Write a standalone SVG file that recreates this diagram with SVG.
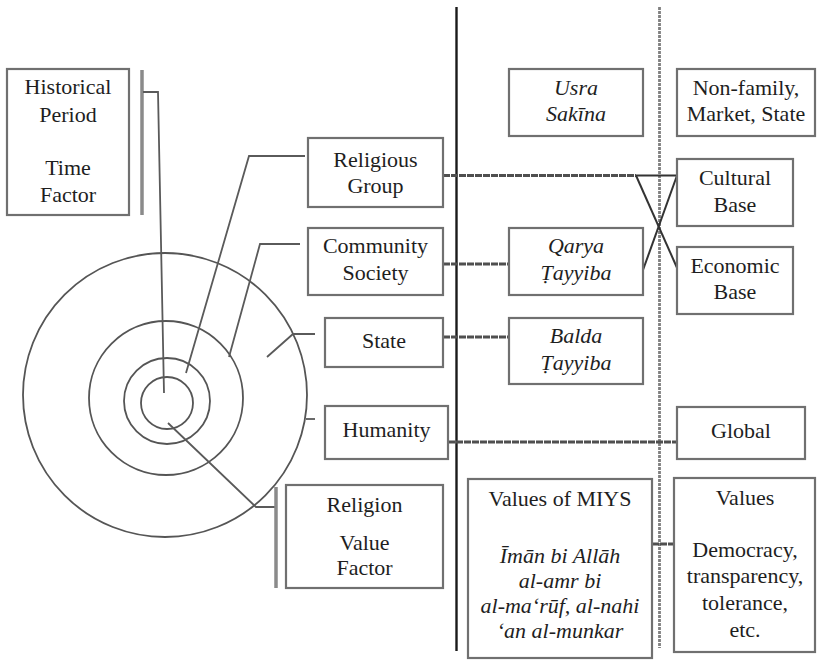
<svg xmlns="http://www.w3.org/2000/svg" width="817" height="661" viewBox="0 0 817 661" font-family="Liberation Serif, Times New Roman, serif">
<style>
.box{fill:#fff;stroke:#707070;stroke-width:2.2}
.t{font-size:22px;fill:#1e1e1e;text-anchor:middle}
.i{font-style:italic}
.ln{fill:none;stroke:#5a5a5a;stroke-width:1.8}
.lg{fill:none;stroke:#8a8a8a;stroke-width:3.5}
.ring{fill:none;stroke:#555;stroke-width:1.8}
.cx{fill:none;stroke:#4f4f4f;stroke-width:2.8;stroke-dasharray:7 1}
.dk{fill:none;stroke:#333;stroke-width:2}
</style>
<rect width="817" height="661" fill="#fff"/>

<g id="dividers">
<line x1="456.5" y1="7" x2="456.5" y2="651" stroke="#1a1a1a" stroke-width="2.4"/>
<line x1="659.5" y1="7" x2="659.5" y2="648" stroke="#808080" stroke-width="2.8" stroke-dasharray="3 1"/>
</g>

<g id="circles">
<circle class="ring" cx="165" cy="395" r="142"/>
<circle class="ring" cx="166" cy="398" r="77"/>
<circle class="ring" cx="167" cy="401" r="43"/>
<circle class="ring" cx="167" cy="403" r="26"/>
</g>

<g id="connectors">
<line class="lg" x1="142" y1="70" x2="142" y2="215"/>
<polyline class="ln" points="143,92 158,92 164,393"/>
<polyline class="ln" points="305,156 249,156 186,373"/>
<polyline class="ln" points="300,244 260,244 229,357"/>
<polyline class="ln" points="267,357 293,334 315,334"/>
<line class="ln" x1="306" y1="419" x2="315" y2="419"/>
<polyline class="ln" points="168,423 256,507 276,507"/>
<line class="lg" x1="276" y1="487" x2="276" y2="588"/>
<line class="cx" x1="443" y1="175.5" x2="636" y2="175.5"/>
<line class="dk" x1="636" y1="175.5" x2="677" y2="175.5"/>
<line class="dk" x1="636" y1="175.5" x2="678" y2="270"/>
<line class="dk" x1="677" y1="175.5" x2="643" y2="270"/>
<line class="cx" x1="443" y1="264" x2="509" y2="264"/>
<line class="cx" x1="443" y1="337" x2="509" y2="337"/>
<line class="cx" x1="448" y1="442" x2="677" y2="442"/>
<line class="cx" x1="652" y1="544" x2="674" y2="544"/>
</g>

<g id="historical">
<rect class="box" x="7" y="69" width="122" height="146"/>
<text class="t" x="68" y="94">Historical</text>
<text class="t" x="68" y="122">Period</text>
<text class="t" x="68" y="175">Time</text>
<text class="t" x="68" y="202">Factor</text>
</g>

<g id="religious-group">
<rect class="box" x="308" y="138" width="135" height="69"/>
<text class="t" x="375.5" y="167">Religious</text>
<text class="t" x="375.5" y="193">Group</text>
</g>

<g id="community">
<rect class="box" x="308" y="228" width="135" height="67"/>
<text class="t" x="375.5" y="253">Community</text>
<text class="t" x="375.5" y="280">Society</text>
</g>

<g id="state">
<rect class="box" x="325" y="318" width="118" height="49"/>
<text class="t" x="384" y="348">State</text>
</g>

<g id="humanity">
<rect class="box" x="325" y="406" width="123" height="53"/>
<text class="t" x="386.5" y="437">Humanity</text>
</g>

<g id="religion">
<rect class="box" x="286" y="485" width="157" height="103"/>
<text class="t" x="364.5" y="512">Religion</text>
<text class="t" x="364.5" y="550">Value</text>
<text class="t" x="364.5" y="575">Factor</text>
</g>

<g id="usra">
<rect class="box" x="509" y="69" width="134" height="67"/>
<text class="t i" x="576" y="95">Usra</text>
<text class="t i" x="576" y="121">Sakīna</text>
</g>

<g id="qarya">
<rect class="box" x="509" y="228" width="134" height="67"/>
<text class="t i" x="576" y="253">Qarya</text>
<text class="t i" x="576" y="280">Ṭayyiba</text>
</g>

<g id="balda">
<rect class="box" x="509" y="318" width="134" height="66"/>
<text class="t i" x="576" y="343">Balda</text>
<text class="t i" x="576" y="370">Ṭayyiba</text>
</g>

<g id="values-miys">
<rect class="box" x="468" y="479" width="184" height="179"/>
<text class="t" x="560" y="506">Values of MIYS</text>
<text class="t i" x="560" y="563">Īmān bi Allāh</text>
<text class="t i" x="560" y="588">al-amr bi</text>
<text class="t i" x="560" y="613">al-ma‘rūf, al-nahi</text>
<text class="t i" x="560" y="638">‘an al-munkar</text>
</g>

<g id="non-family">
<rect class="box" x="677" y="69" width="138" height="67"/>
<text class="t" x="746" y="95">Non-family,</text>
<text class="t" x="746" y="121">Market, State</text>
</g>

<g id="cultural">
<rect class="box" x="677" y="159" width="116" height="67"/>
<text class="t" x="735" y="185">Cultural</text>
<text class="t" x="735" y="212">Base</text>
</g>

<g id="economic">
<rect class="box" x="677" y="247" width="116" height="67"/>
<text class="t" x="735" y="273">Economic</text>
<text class="t" x="735" y="299">Base</text>
</g>

<g id="global">
<rect class="box" x="677" y="407" width="128" height="52"/>
<text class="t" x="741" y="438">Global</text>
</g>

<g id="values">
<rect class="box" x="674" y="478" width="141" height="174"/>
<text class="t" x="745" y="505">Values</text>
<text class="t" x="745" y="557">Democracy,</text>
<text class="t" x="745" y="583">transparency,</text>
<text class="t" x="745" y="610">tolerance,</text>
<text class="t" x="745" y="637">etc.</text>
</g>
</svg>
